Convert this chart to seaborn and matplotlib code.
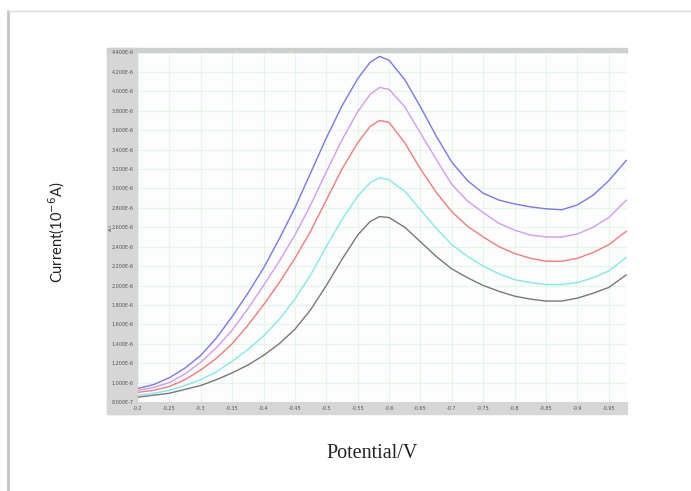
import pandas as pd
import seaborn as sns
import matplotlib.pyplot as plt
from matplotlib.patches import Rectangle
from matplotlib.lines import Line2D

sns.set_style('white')

# potential (V)
potential = [-0.2, -0.225, -0.25, -0.275, -0.3, -0.325, -0.35, -0.375, -0.4, -0.425,
             -0.45, -0.475, -0.5, -0.525, -0.55, -0.57, -0.585, -0.6, -0.625, -0.65,
             -0.675, -0.7, -0.725, -0.75, -0.775, -0.8, -0.825, -0.85, -0.875, -0.9,
             -0.925, -0.95, -0.978]

# current, units of 1e-6 A
blue = [0.94, 0.98, 1.05, 1.15, 1.28, 1.46, 1.68, 1.92, 2.18, 2.48, 2.80, 3.16, 3.52,
        3.85, 4.13, 4.30, 4.36, 4.32, 4.12, 3.84, 3.54, 3.27, 3.08, 2.95, 2.88, 2.84,
        2.81, 2.79, 2.78, 2.83, 2.93, 3.08, 3.29]
violet = [0.92, 0.95, 1.00, 1.09, 1.21, 1.36, 1.54, 1.76, 2.00, 2.25, 2.52, 2.83, 3.17,
          3.50, 3.79, 3.97, 4.04, 4.02, 3.84, 3.57, 3.30, 3.04, 2.87, 2.75, 2.64, 2.57,
          2.52, 2.50, 2.50, 2.53, 2.60, 2.70, 2.88]
red = [0.90, 0.92, 0.96, 1.03, 1.13, 1.25, 1.40, 1.59, 1.80, 2.03, 2.28, 2.56, 2.88,
       3.20, 3.47, 3.64, 3.70, 3.68, 3.47, 3.20, 2.96, 2.76, 2.61, 2.50, 2.40, 2.33,
       2.28, 2.25, 2.25, 2.28, 2.34, 2.42, 2.56]
cyan = [0.87, 0.89, 0.92, 0.97, 1.03, 1.11, 1.22, 1.34, 1.48, 1.65, 1.86, 2.11, 2.40,
        2.68, 2.92, 3.06, 3.11, 3.09, 2.97, 2.78, 2.59, 2.42, 2.30, 2.20, 2.12, 2.06,
        2.03, 2.01, 2.01, 2.03, 2.08, 2.15, 2.29]
gray = [0.85, 0.87, 0.89, 0.93, 0.97, 1.03, 1.10, 1.18, 1.28, 1.40, 1.55, 1.75, 2.00,
        2.27, 2.52, 2.66, 2.71, 2.70, 2.60, 2.45, 2.30, 2.17, 2.08, 2.00, 1.94, 1.89,
        1.86, 1.84, 1.84, 1.87, 1.92, 1.98, 2.11]

series = {'blue': blue, 'violet': violet, 'red': red, 'cyan': cyan, 'gray': gray}
colors = {'blue': '#7878ec', 'violet': '#d49af2', 'red': '#f07c7c',
          'cyan': '#7feaea', 'gray': '#787878'}

x_ticks = [-0.2, -0.25, -0.3, -0.35, -0.4, -0.45, -0.5, -0.55, -0.6, -0.65,
           -0.7, -0.75, -0.8, -0.85, -0.9, -0.95]
x_labels = ['-0.2', '-0.25', '-0.3', '-0.35', '-0.4', '-0.45', '-0.5', '-0.55', '-0.6',
            '-0.65', '-0.7', '-0.75', '-0.8', '-0.85', '-0.9', '-0.95']
y_ticks = [0.8, 1.0, 1.2, 1.4, 1.6, 1.8, 2.0, 2.2, 2.4, 2.6, 2.8, 3.0, 3.2, 3.4, 3.6,
           3.8, 4.0, 4.2, 4.4]
y_labels = ['8.000E-7', '1.000E-6', '1.200E-6', '1.400E-6', '1.600E-6', '1.800E-6',
            '2.000E-6', '2.200E-6', '2.400E-6', '2.600E-6', '2.800E-6', '3.000E-6',
            '3.200E-6', '3.400E-6', '3.600E-6', '3.800E-6', '4.000E-6', '4.200E-6',
            '4.400E-6']

rows = []
for name, vals in series.items():
    for xv, yv in zip(potential, vals):
        rows.append({'potential': xv, 'current': yv, 'curve': name})
df = pd.DataFrame(rows)

W, H = 691, 491
fig = plt.figure(figsize=(W / 100, H / 100), dpi=100)
fig.patch.set_facecolor('white')


def fx(px):
    return px / W


def fy(py):
    return 1 - py / H


# gray frame of the instrument screenshot (drawn under the axes)
fig.patches.append(Rectangle((fx(107), fy(414)), fx(31), fy(48) - fy(414),
                             transform=fig.transFigure, color='#d6d6d6', zorder=-2))
fig.patches.append(Rectangle((fx(107), fy(414)), fx(520), fy(402) - fy(414),
                             transform=fig.transFigure, color='#d6d6d6', zorder=-2))
fig.patches.append(Rectangle((fx(107), fy(52.5)), fx(520), fy(48) - fy(52.5),
                             transform=fig.transFigure, color='#cfcfcf', zorder=-2))
# outer page border
fig.add_artist(Line2D([fx(8), fx(8)], [fy(11), 0], transform=fig.transFigure,
                      color='#c4c4c4', lw=2))
fig.add_artist(Line2D([fx(8), 1], [fy(11), fy(11)], transform=fig.transFigure,
                      color='#dcdcdc', lw=1))

ax = fig.add_axes([fx(138), fy(402), fx(627) - fx(138), fy(52.5) - fy(402)])
ax.set_facecolor('#fdfdfd')

sns.lineplot(data=df, x='potential', y='current', hue='curve', palette=colors,
             hue_order=list(series.keys()), sort=False, estimator=None,
             linewidth=1.0, legend=False, ax=ax)

ax.set_xlim(-0.2, -0.979)
ax.set_ylim(0.8, 4.4)
ax.set_xticks(x_ticks)
ax.set_xticklabels(x_labels, fontsize=3.5, color='#555555')
ax.set_yticks(y_ticks)
ax.set_yticklabels(y_labels, fontsize=3.5, color='#555555')
ax.tick_params(axis='both', length=2, width=0.5, color='#777777', pad=1)
ax.grid(True, color='#e4f6e4', linewidth=0.8)
ax.set_axisbelow(True)
for s in ax.spines.values():
    s.set_visible(False)
ax.set_xlabel('')
ax.set_ylabel('')

fig.text(fx(111), fy(227), 'A(i)', rotation=90, fontsize=3, color='#555555',
         ha='center', va='center')
fig.text(fx(57), fy(232), 'Current(10$^{-6}$A)', rotation=90, fontsize=10.5,
         family=['Lato', 'DejaVu Sans'], ha='center', va='center', color='#222222')
fig.text(fx(372), fy(453), 'Potential/V', fontsize=14.5,
         family=['Liberation Serif', 'DejaVu Serif'], ha='center', va='center',
         color='#222222')

fig.savefig('out.png', dpi=100)
